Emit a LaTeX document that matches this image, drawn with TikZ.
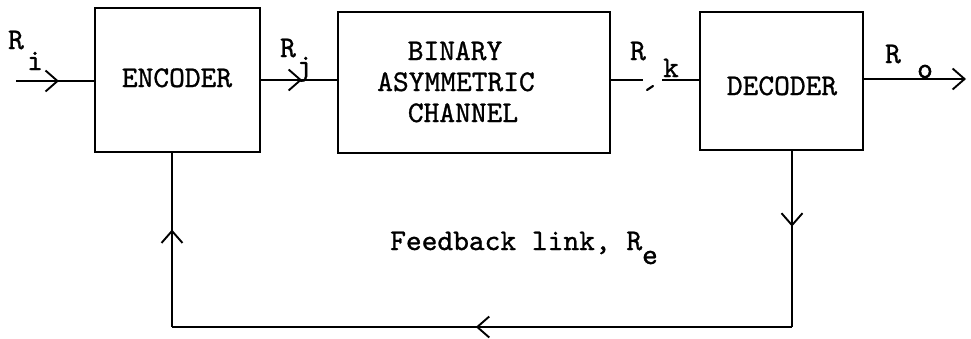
\documentclass[tikz,border=0pt]{standalone}
\usepackage{fontspec}
\usetikzlibrary{arrows.meta,decorations.markings}

\newfontfamily\typewriterfont{lmmono10-regular.otf}[FakeBold=1.0]
\newcommand{\typerface}{\fontsize{30}{31}\selectfont\typewriterfont}

\tikzset{
  blk/.style={draw, line width=1.8pt, inner sep=0pt},
  conn/.style={line width=1.4pt},
  lbl/.style={anchor=base, inner sep=0pt},
  barb/.tip={Straight Barb[length=12pt,width=21pt,line width=1.9pt]},
  midarrow/.style={postaction={decorate},
    decoration={markings, mark=at position #1 with {\arrow{barb}}}},
}

\begin{document}
\begin{tikzpicture}[x=1pt,y=-1pt,font=\typerface]
\useasboundingbox (0,0) rectangle (971,338);

% blocks
\node[blk, minimum width=165pt, minimum height=144pt] (enc) at (177.5,80) {};
\node[blk, minimum width=272pt, minimum height=141pt] (ch)  at (474,82.5) {};
\node[blk, minimum width=163pt, minimum height=138pt] (dec) at (781.5,81) {};

\node[lbl] (encT) at (177,87) {ENCODER};
\node[lbl] (decT) at (782,95) {DECODER};
\node[lbl] (chT1) at (455,60) {BINARY};
\node[lbl] (chT2) at (456,91) {ASYMMETRIC};
\node[lbl] (chT3) at (463,122) {CHANNEL};

% forward path
\coordinate (in) at (16,81);
\draw[conn, midarrow=0.55] (in) -- (in -| enc.west);

\coordinate (j) at (0,80);
\draw[conn, midarrow=0.54] (enc.east |- j) -- (ch.west |- j);

\coordinate (kA) at (643,80);
\coordinate (kB) at (662,80);
\draw[conn] (ch.east |- kA) -- (kA);
\draw[conn] (kB) -- (dec.west |- kB);
\draw[line width=2.2pt, line cap=round] (647,90) -- (653,86);

\coordinate (out) at (966,79);
\draw[conn, -barb] (dec.east |- out) -- (out);

% feedback path
\coordinate (fbR) at (792,327);
\coordinate (fbL) at (172,327);
\draw[conn, midarrow=0.43] (dec.south -| fbR) -- (fbR);
\draw[conn, midarrow=0.51] (fbR) -- (fbL);
\draw[conn, midarrow=0.56] (fbL) -- (enc.south -| fbL);

% rate labels
\node[lbl] (Ri)  at (16,49) {R};
\node[lbl] (Ris) at (35,70) {i};
\node[lbl] (Rj)  at (288,57) {R};
\node[lbl] (Rjs) at (304,75) {j};
\node[lbl] (Rk)  at (638,60) {R};
\node[lbl] (Rks) at (671,77) {k};
\node[lbl] (Ro)  at (893,63) {R};
\node[lbl] (Ros) at (925,78) {o};
\node[anchor=base west, inner sep=0pt] (fb) at (390,250) {Feedback link, R};
\node[lbl] (Res) at (650,264) {e};
\end{tikzpicture}
\end{document}
